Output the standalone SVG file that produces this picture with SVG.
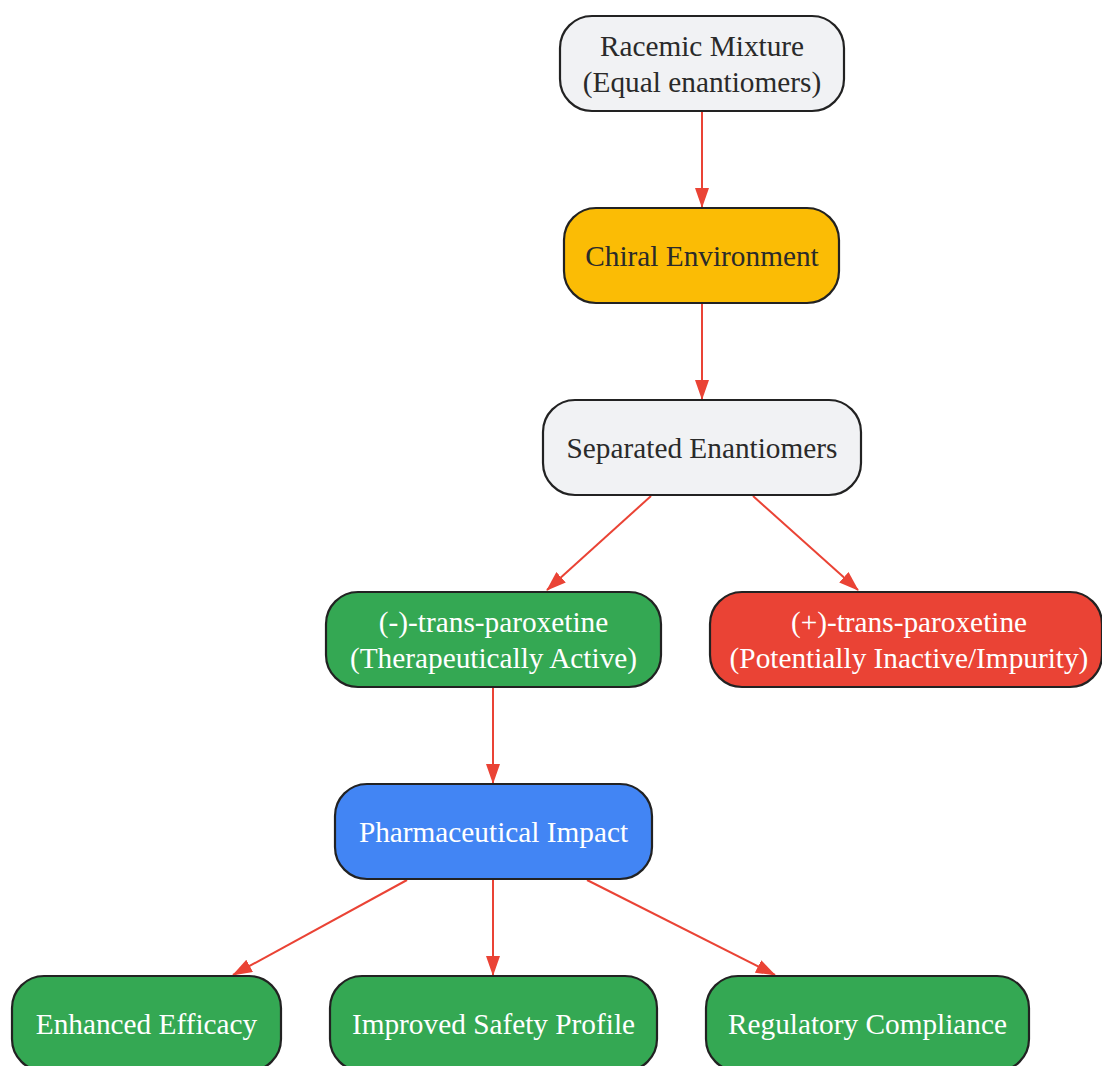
<svg xmlns="http://www.w3.org/2000/svg" width="1102" height="1066" viewBox="0 0 1102 1066">
<style>
.n rect{stroke:#222;stroke-width:2.2}
.t{font-family:"Liberation Serif","Times New Roman",serif;font-size:29.3px;text-anchor:middle}
.dk{fill:#2a2a2a}
.lt{fill:#ffffff}
.e{stroke:#EA4335;stroke-width:2;fill:none;marker-end:url(#ah)}
</style>
<defs>
<marker id="ah" viewBox="0 0 20 14" refX="19" refY="7" markerWidth="20" markerHeight="14" markerUnits="userSpaceOnUse" orient="auto">
<path d="M0,0 L20,7 L0,14 Z" fill="#EA4335"/>
</marker>
</defs>
<rect width="1102" height="1066" fill="#ffffff"/>
<g id="edges">
<line class="e" x1="702" y1="111" x2="702" y2="207"/>
<line class="e" x1="702" y1="303" x2="702" y2="399"/>
<line class="e" x1="651" y1="496" x2="547" y2="590"/>
<line class="e" x1="753" y1="496" x2="858" y2="590"/>
<line class="e" x1="493" y1="687" x2="493" y2="783"/>
<line class="e" x1="407" y1="880" x2="233" y2="975"/>
<line class="e" x1="493" y1="880" x2="493" y2="975"/>
<line class="e" x1="587" y1="880" x2="775" y2="975"/>
</g>
<g id="racemic" class="n">
<rect x="560" y="16" width="284" height="95" rx="32" fill="#f1f2f4"/>
<text class="t dk" x="702" y="56">Racemic Mixture</text>
<text class="t dk" x="702" y="92">(Equal enantiomers)</text>
</g>
<g id="chiral" class="n">
<rect x="564" y="208" width="275" height="95" rx="32" fill="#FBBC05"/>
<text class="t dk" x="702" y="266">Chiral Environment</text>
</g>
<g id="separated" class="n">
<rect x="543" y="400" width="318" height="95" rx="32" fill="#f1f2f4"/>
<text class="t dk" x="702" y="458">Separated Enantiomers</text>
</g>
<g id="minus" class="n">
<rect x="326" y="592" width="335" height="95" rx="32" fill="#34A853"/>
<text class="t lt" x="493.5" y="632">(-)-trans-paroxetine</text>
<text class="t lt" x="493.5" y="668">(Therapeutically Active)</text>
</g>
<g id="plus" class="n">
<rect x="710" y="592" width="392" height="95" rx="32" fill="#EA4335"/>
<text class="t lt" x="909" y="632">(+)-trans-paroxetine</text>
<text class="t lt" x="909" y="668">(Potentially Inactive/Impurity)</text>
</g>
<g id="pharma" class="n">
<rect x="335" y="784" width="317" height="95" rx="32" fill="#4285F4"/>
<text class="t lt" x="493.5" y="842">Pharmaceutical Impact</text>
</g>
<g id="efficacy" class="n">
<rect x="12" y="976" width="269" height="95" rx="32" fill="#34A853"/>
<text class="t lt" x="146.5" y="1034">Enhanced Efficacy</text>
</g>
<g id="safety" class="n">
<rect x="330" y="976" width="327" height="95" rx="32" fill="#34A853"/>
<text class="t lt" x="493.5" y="1034">Improved Safety Profile</text>
</g>
<g id="regulatory" class="n">
<rect x="706" y="976" width="323" height="95" rx="32" fill="#34A853"/>
<text class="t lt" x="867.5" y="1034">Regulatory Compliance</text>
</g>
</svg>
